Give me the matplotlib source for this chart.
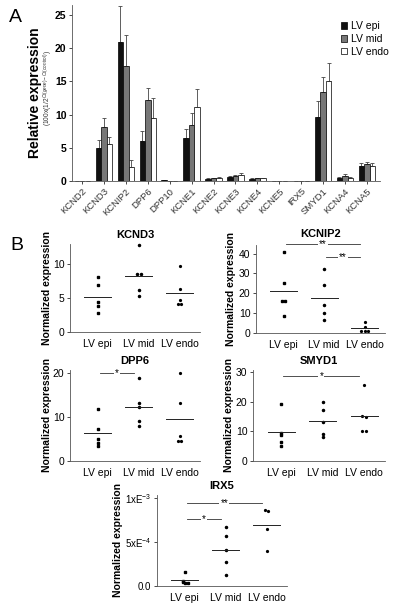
"""
Regional expression of Kv channel subunits and regulators across the LV wall.
Panel A: grouped bars (epi / mid / endo), panel B: per-sample dot plots.
Output: out.png
"""

import numpy as np
import matplotlib.pyplot as plt

plt.rcParams['font.family'] = ['Liberation Sans', 'DejaVu Sans']
plt.rcParams['mathtext.fontset'] = 'custom'
plt.rcParams['mathtext.rm'] = 'Liberation Sans'
plt.rcParams['mathtext.it'] = 'Liberation Sans:italic'
plt.rcParams['mathtext.bf'] = 'Liberation Sans:bold'
plt.rcParams['axes.unicode_minus'] = False

# -------------------------------------------------------------------
# Panel A data: mean relative expression and upper SEM
# -------------------------------------------------------------------
genes = ["KCND2", "KCND3", "KCNIP2", "DPP6", "DPP10", "KCNE1", "KCNE2",
         "KCNE3", "KCNE4", "KCNE5", "IRX5", "SMYD1", "KCNA4", "KCNA5"]
regions = ["LV epi", "LV mid", "LV endo"]

epi_mean = [0.02, 5.0, 21.0, 6.0, 0.10, 6.4, 0.30, 0.60, 0.35, 0.01, 0.01, 9.6, 0.50, 2.3]
mid_mean = [0.02, 8.2, 17.3, 12.2, 0.05, 8.4, 0.40, 0.70, 0.40, 0.01, 0.01, 13.4, 0.70, 2.6]
endo_mean = [0.02, 5.6, 2.1, 9.5, 0.05, 11.2, 0.40, 0.90, 0.40, 0.01, 0.01, 15.1, 0.50, 2.2]

epi_err = [0.0, 1.2, 5.4, 1.5, 0.05, 1.5, 0.10, 0.10, 0.10, 0.0, 0.0, 2.4, 0.15, 0.45]
mid_err = [0.0, 1.3, 4.7, 1.8, 0.02, 1.8, 0.10, 0.15, 0.10, 0.0, 0.0, 2.3, 0.30, 0.30]
endo_err = [0.0, 1.0, 1.0, 3.0, 0.02, 2.6, 0.15, 0.35, 0.10, 0.0, 0.0, 2.7, 0.10, 0.50]

# -------------------------------------------------------------------
# Panel B data: normalized expression per sample
# -------------------------------------------------------------------
kcnd3 = [[8.1, 7.0, 4.4, 3.8, 2.8],
         [12.8, 8.5, 8.5, 6.2, 5.3],
         [9.7, 6.4, 4.7, 4.1, 4.1]]
kcnip2 = [[40.6, 25.0, 16.2, 16.2, 8.4],
          [32.2, 24.1, 14.0, 10.2, 6.4],
          [5.5, 3.0, 1.1, 1.0, 0.9]]
dpp6 = [[11.8, 7.2, 4.9, 4.2, 3.3],
        [18.8, 13.3, 12.3, 9.2, 8.0],
        [20.1, 13.3, 5.8, 4.5, 4.5]]
smyd1 = [[19.2, 9.3, 8.8, 6.3, 5.2],
         [20.0, 17.0, 13.0, 9.1, 8.0],
         [25.6, 15.3, 14.9, 10.2, 10.2]]
irx5 = [[1.5e-4, 0.55e-4, 0.45e-4, 0.35e-4, 0.30e-4],
        [6.7e-4, 5.65e-4, 4.06e-4, 2.7e-4, 1.2e-4],
        [8.6e-4, 8.5e-4, 6.4e-4, 3.9e-4]]

# significance bars: (from group, to group, height, label)
sig_kcnip2 = [(0, 2, 44.7, "**"), (1, 2, 38.1, "**")]
sig_dpp6 = [(0, 1, 20.1, "*")]
sig_smyd1 = [(0, 2, 28.5, "*")]
sig_irx5 = [(0, 2, 9.4e-4, "**"), (0, 1, 7.6e-4, "*")]

fig = plt.figure(figsize=(4.0, 6.1), dpi=100)
W, H = 400.0, 610.0


def px_axes(left, top, right, bottom):
    """Create axes from pixel box (top-left origin)."""
    return fig.add_axes([left / W, 1 - bottom / H, (right - left) / W, (bottom - top) / H])


# -------------------------------------------------------------------
# Panel A
# -------------------------------------------------------------------
axA = px_axes(72, 5, 380, 181)
x = np.arange(len(genes))
bw = 0.25
colors = ["#111111", "#777777", "white"]
means = [epi_mean, mid_mean, endo_mean]
errs = [epi_err, mid_err, endo_err]
for k in range(3):
    pos = x + (k - 1) * bw
    axA.bar(pos, means[k], width=bw, color=colors[k], edgecolor="black",
            linewidth=0.5, label=regions[k], zorder=2)
    axA.errorbar(pos, means[k], yerr=[np.zeros(len(genes)), errs[k]], fmt="none",
                 ecolor="#444444", elinewidth=0.6, capsize=1.3, capthick=0.6, zorder=1)

axA.set_xlim(-0.46, 13.6)
axA.set_ylim(0, 26.5)
axA.set_yticks([0, 5, 10, 15, 20, 25])
axA.set_yticklabels(["0", "5", "10", "15", "20", "25"], fontsize=7.5, fontweight="bold")
axA.set_xticks(x)
axA.set_xticklabels(genes, rotation=45, ha="right", rotation_mode="anchor",
                    fontsize=6.8, color="#333333")
axA.tick_params(axis="x", length=2, width=0.5, pad=2)
axA.tick_params(axis="y", length=2.5, width=0.5, pad=1.5)
for s in ["top", "right"]:
    axA.spines[s].set_visible(False)
for s in ["left", "bottom"]:
    axA.spines[s].set_linewidth(0.6)
    axA.spines[s].set_color("#555555")

axA.set_ylabel("Relative expression", fontsize=10, fontweight="bold")
axA.yaxis.set_label_coords(-0.097, 0.5)
fig.text(48.5 / W, 1 - 88 / H, r"(100x(1/2$^{Ct(gene)-Ct(control)}$)", rotation=90,
         ha="center", va="center", fontsize=4.8, color="#333333")

handles, labels = axA.get_legend_handles_labels()
leg = axA.legend(handles, labels, loc="upper right", bbox_to_anchor=(1.06, 0.96),
                 frameon=False, fontsize=7.5, handlelength=0.6, handleheight=0.6,
                 handletextpad=0.4, labelspacing=0.25)
fig.text(15 / W, 1 - 17 / H, "A", fontsize=14, ha="center", va="center")
fig.text(17 / W, 1 - 245 / H, "B", fontsize=14, ha="center", va="center")


# -------------------------------------------------------------------
# Panel B helpers
# -------------------------------------------------------------------
def spread(vals, tol):
    """Small horizontal offsets for points that would overlap."""
    offs = np.zeros(len(vals))
    for i in range(len(vals)):
        close = [j for j in range(len(vals)) if abs(vals[j] - vals[i]) < tol]
        if len(close) > 1:
            rank = close.index(i)
            offs[i] = (rank - (len(close) - 1) / 2) * 0.09
    return offs


def dot_panel(box, title, groups, ylim, yticks, yticklabels, sigs, lab_x,
              tick_fs=7.5, title_pad=4):
    ax = px_axes(*box)
    tol = ylim[1] * 0.015
    markers = [("s", 2.0), ("o", 1.5), ("o", 1.3)]
    for g, vals in enumerate(groups):
        vals = np.array(vals)
        xs = g + spread(vals, tol)
        ax.plot(xs, vals, linestyle="none", marker=markers[g][0],
                markersize=markers[g][1], color="black", clip_on=False)
        ax.plot([g - 0.33, g + 0.33], [vals.mean()] * 2, color="#222222",
                linewidth=0.7)
    for i, j, yv, lab in sigs:
        ax.plot([i + 0.05, j - 0.12], [yv, yv], color="#333333", linewidth=0.6,
                clip_on=False)
        ax.text((i + j - 0.07) / 2, yv, lab, ha="center", va="center", fontsize=7,
                bbox=dict(boxstyle="square,pad=0.1", facecolor="white",
                          edgecolor="none"), clip_on=False)
    ax.set_xlim(-0.68, 2.5)
    ax.set_ylim(*ylim)
    ax.set_xticks(range(3))
    ax.set_xticklabels(regions, fontsize=7.5)
    ax.set_yticks(yticks)
    ax.set_yticklabels(yticklabels, fontsize=tick_fs)
    ax.tick_params(axis="x", length=0, pad=5)
    ax.tick_params(axis="y", length=2.5, width=0.5, pad=1.5)
    for s in ["top", "right"]:
        ax.spines[s].set_visible(False)
    for s in ["left", "bottom"]:
        ax.spines[s].set_linewidth(0.6)
        ax.spines[s].set_color("#555555")
    ax.set_title(title, fontsize=8, fontweight="bold", pad=title_pad)
    ax.set_ylabel("Normalized expression", fontsize=7.5, fontweight="bold")
    ax.yaxis.set_label_coords(lab_x, 0.5)
    return ax


dot_panel((70, 244, 200, 332), "KCND3", kcnd3, (0, 13), [0, 5, 10],
          ["0", "5", "10"], [], -0.135)
dot_panel((256, 245, 385, 332.7), "KCNIP2", kcnip2, (0, 44.3), [0, 10, 20, 30, 40],
          ["0", "10", "20", "30", "40"], sig_kcnip2, -0.155, title_pad=6)
dot_panel((70, 370, 200, 461), "DPP6", dpp6, (0, 20.7), [0, 10, 20],
          ["0", "10", "20"], sig_dpp6, -0.135)
dot_panel((253, 370, 385, 461), "SMYD1", smyd1, (0, 30.6), [0, 10, 20, 30],
          ["0", "10", "20", "30"], sig_smyd1, -0.145)
dot_panel((157, 495, 287, 585.7), "IRX5", irx5, (0, 1.03e-3), [0, 5e-4, 1e-3],
          ["0.0", r"5xE$^{-4}$", r"1xE$^{-3}$"], sig_irx5, -0.265, tick_fs=7)

plt.savefig("out.png", dpi=100)
plt.close()
